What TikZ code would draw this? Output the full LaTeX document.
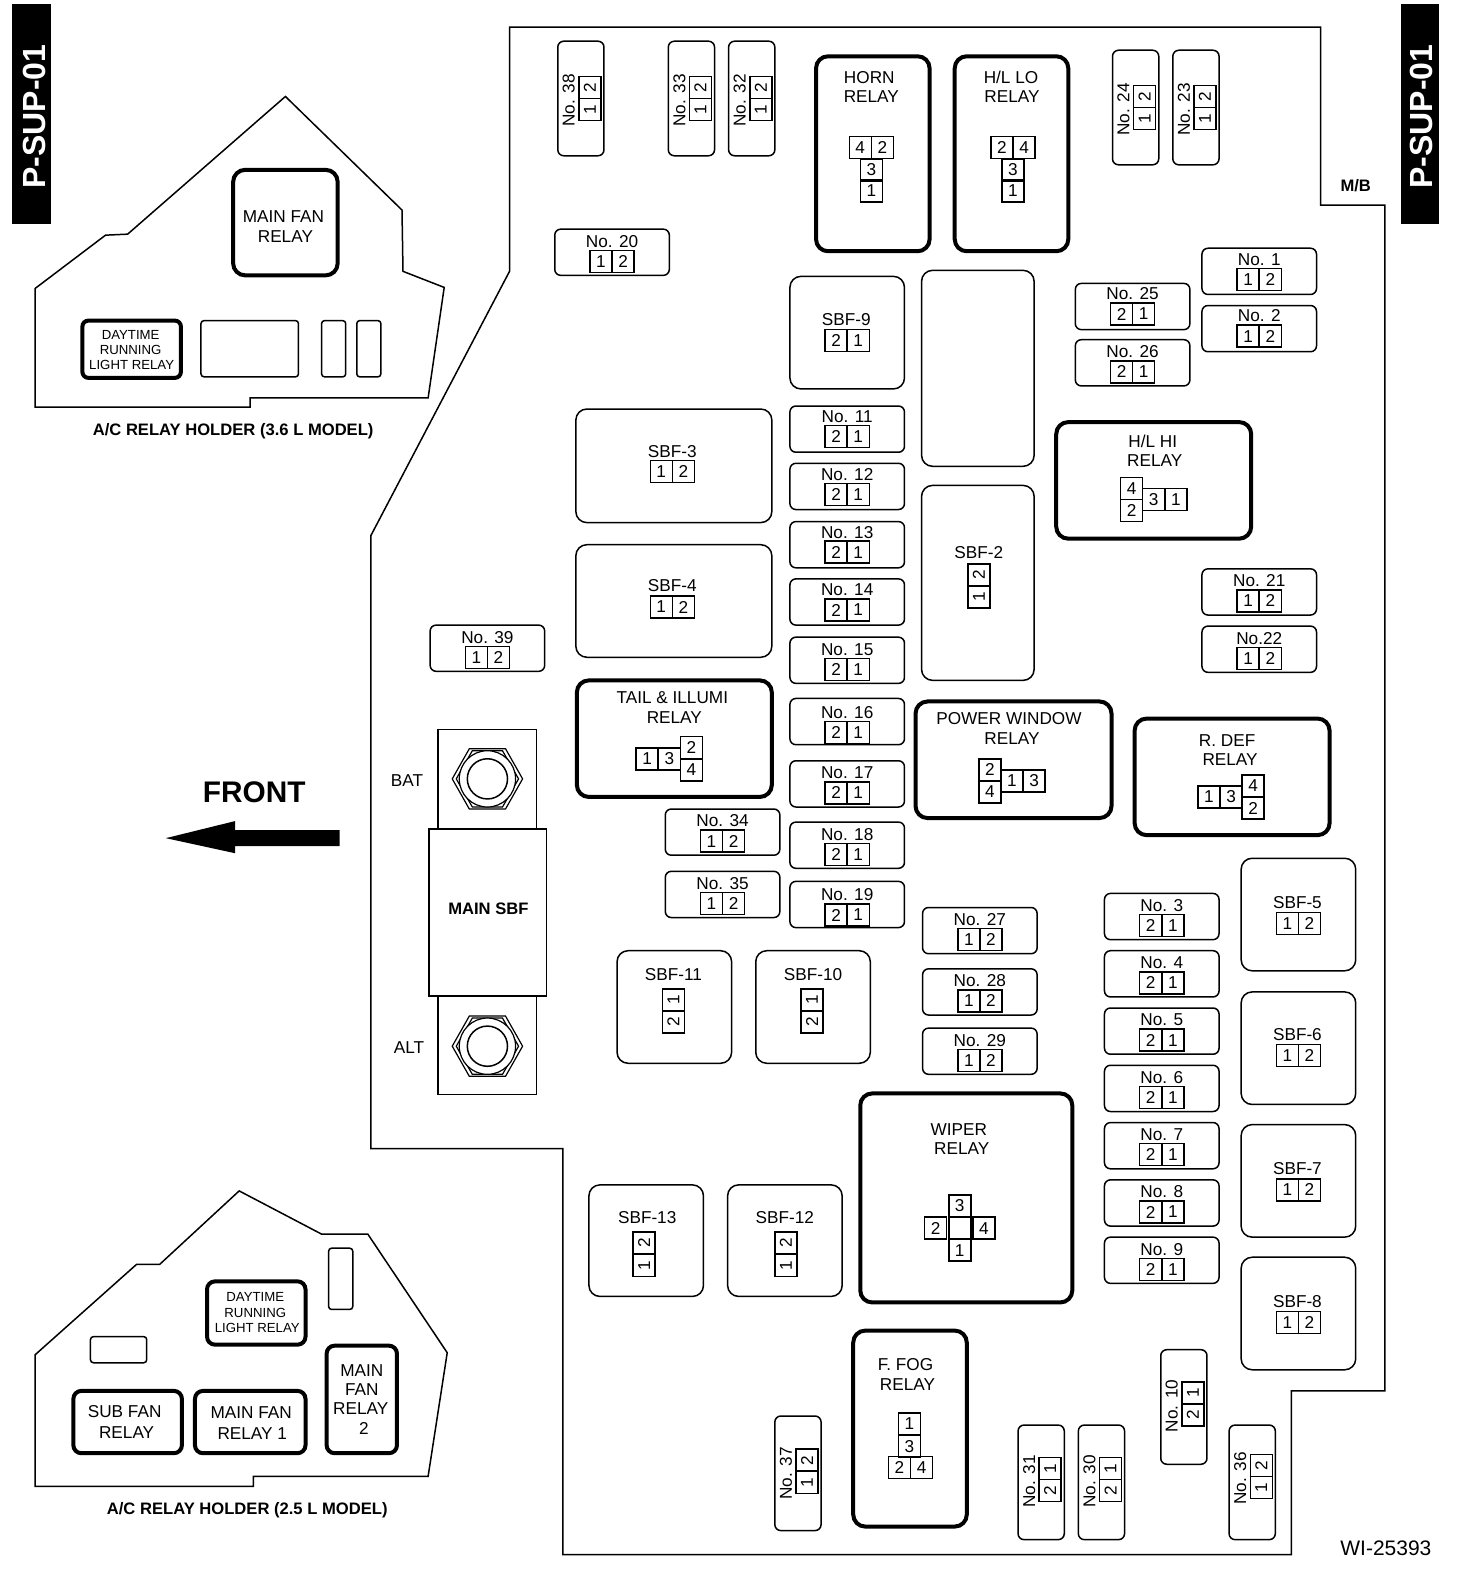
\documentclass[tikz,border=0pt]{standalone}
\usepackage{fontspec}
\setmainfont{Liberation Sans}
\usetikzlibrary{calc}

\tikzset{
  thinline/.style={line width=0.75pt},
  fusebox/.style={thinline, rounded corners=3pt},
  blankbox/.style={thinline, rounded corners=1.5pt},
  sbfbox/.style={thinline, rounded corners=5.5pt},
  relaybox/.style={line width=2pt, rounded corners=6pt},
  holderline/.style={line width=0.75pt, line join=miter},
  pinbox/.style={draw, thinline, inner sep=0pt, minimum width=11pt, minimum height=11pt},
  smalltext/.style={font=\fontsize{6.6}{8}\selectfont},
  boldtext/.style={font=\fontsize{8.3}{10}\selectfont\bfseries}
}

% one numbered square of a connector
\newcommand{\pin}[4]{\node[pinbox] (#1) at (#2,#3) {#4};}
\newcommand{\vpin}[4]{\node[pinbox, rotate=90] (#1) at (#2,#3) {#4};}

% flat fuse: name, left, top, label, pins, shift of its contents
\newcommand{\hfuse}[7]{
  \draw[fusebox] (#2,#3) rectangle ++(114,46);
  \node (#1) at ($(#2,#3)+(57,12+#7)$) {#4};
  \pin{#1a}{#2+46}{#3+32+#7}{#5}
  \pin{#1b}{#2+68}{#3+32+#7}{#6}
}

% upright fuse: name, left, top, label, pins, offset of the pins
\newcommand{\vfuse}[7]{
  \draw[fusebox] (#2,#3) rectangle ++(46,114);
  \node[rotate=90] (#1) at ($(#2,#3)+(11,#7+24)$) {#4};
  \vpin{#1a}{#2+32}{#3+#7+11}{#5}
  \vpin{#1b}{#2+32}{#3+#7+33}{#6}
}

% square fuse with flat pins
\newcommand{\sbf}[7]{
  \draw[sbfbox] (#2,#3) rectangle ++(114,112);
  \node (#1) at ($(#2,#3)+(56,44+#7)$) {#4};
  \pin{#1a}{#2+46}{#3+65+#7}{#5}
  \pin{#1b}{#2+68}{#3+65+#7}{#6}
}

% hexagon bolt of the main fuse
\newcommand{\bolt}[2]{
  \draw[line width=0.6pt] (#1-35,#2) -- (#1-18,#2-30) -- (#1+18,#2-30) -- (#1+35,#2)
    -- (#1+18,#2+30) -- (#1-18,#2+30) -- cycle;
  \draw[line width=0.6pt] (#1-31,#2) -- (#1-15,#2-28) -- (#1+15,#2-28) -- (#1+31,#2)
    -- (#1+15,#2+28) -- (#1-15,#2+28) -- cycle;
  \draw[line width=0.6pt, fill=white] (#1,#2) circle [radius=28];
  \draw[thinline] (#1,#2) circle [radius=20];
}

\begin{document}
\begin{tikzpicture}[x=0.5025pt, y=-0.5025pt, inner sep=0pt,
    font=\fontsize{8.6}{10}\selectfont]

\useasboundingbox (0,0) rectangle (1464.7,1568.2);

% Side tabs
\fill (12,4) rectangle (51,223);
\fill (1394,4) rectangle (1432,223);
\node[rotate=90, text=white, font=\fontsize{16}{18}\selectfont\bfseries] (tabL) at (34,116) {P-SUP-01};
\node[rotate=90, text=white, font=\fontsize{16}{18}\selectfont\bfseries] (tabR) at (1414,116) {P-SUP-01};

% Outline of the main box
\draw[holderline] (507,27) -- (1314,27) -- (1314,204) -- (1378,204) -- (1378,1384)
  -- (1285,1384) -- (1285,1547) -- (560,1547) -- (560,1143) -- (369,1143)
  -- (369,533) -- (507,270) -- cycle;
\node[boldtext] (mb) at (1349,185) {M/B};
\node[font=\fontsize{10.5}{12}\selectfont] (wi) at (1379,1541) {WI-25393};

% Holder, 3.6 L
\draw[holderline] (35,287) -- (105,234) -- (127,233) -- (284,96) -- (400,209) -- (401,270)
  -- (442,286) -- (426,396) -- (249,396) -- (249,405) -- (35,405) -- cycle;
\draw[relaybox] (232,169) rectangle (336,274);
\node (mainfanA) at (282,216) {MAIN FAN};
\node (mainfanB) at (284,235) {RELAY};
\draw[relaybox, rounded corners=3pt] (82,319) rectangle (180,376);
\node[smalltext] (dayA) at (130,333) {DAYTIME};
\node[smalltext] (dayB) at (130,348) {RUNNING};
\node[smalltext] (dayC) at (131,363) {LIGHT RELAY};
\draw[blankbox] (200,319) rectangle (297,375);
\draw[blankbox] (320,319) rectangle (344,375);
\draw[blankbox] (355,319) rectangle (379,375);
\node[boldtext] (holderA) at (232,429) {A/C RELAY HOLDER (3.6 L MODEL)};

% Holder, 2.5 L
\draw[holderline] (35,1348) -- (136,1258) -- (159,1258) -- (238,1185) -- (320,1228) -- (366,1228)
  -- (445,1346) -- (426,1469) -- (252,1469) -- (252,1479) -- (35,1479) -- cycle;
\draw[blankbox] (327,1242) rectangle (351,1303);
\draw[blankbox] (90,1330) rectangle (146,1356);
\draw[relaybox, rounded corners=4pt] (206,1275) rectangle (304,1338);
\node[smalltext] (day2A) at (254,1291) {DAYTIME};
\node[smalltext] (day2B) at (254,1306) {RUNNING};
\node[smalltext] (day2C) at (256,1321) {LIGHT RELAY};
\draw[relaybox, rounded corners=4pt] (73,1384) rectangle (181,1446);
\node (subA) at (124,1405) {SUB FAN};
\node (subB) at (126,1425) {RELAY};
\draw[relaybox, rounded corners=4pt] (194,1384) rectangle (304,1446);
\node (fan1A) at (250,1406) {MAIN FAN};
\node (fan1B) at (251,1426) {RELAY 1};
\draw[relaybox, rounded corners=4pt] (325,1339) rectangle (395,1446);
\node (fan2A) at (360,1364) {MAIN};
\node (fan2B) at (360,1383) {FAN};
\node (fan2C) at (359,1402) {RELAY};
\node (fan2D) at (362,1421) {2};
\node[boldtext] (holderB) at (246,1503) {A/C RELAY HOLDER (2.5 L MODEL)};

% Front arrow
\node[font=\fontsize{14.9}{17}\selectfont\bfseries] (front) at (253,788) {FRONT};
\fill (338,826) -- (234,826) -- (234,817) -- (165,834) -- (234,849) -- (234,842) -- (338,842) -- cycle;

% Main fuse with its two bolts
\draw[thinline] (436,726) rectangle (534,825);
\draw[thinline] (436,991) rectangle (534,1089);
\draw[thinline] (427,825) rectangle (544,991);
\bolt{485}{775}
\bolt{485}{1041}
\node[boldtext] (mainsbf) at (486,904) {MAIN SBF};
\node (bat) at (405,777) {BAT};
\node (alt) at (407,1042) {ALT};

% Upright fuses
\foreach \n/\x/\y/\dy in {38/555/41/35, 33/665/41/35, 32/725/41/35, 24/1107/50/35, 23/1167/50/35,
    37/771/1409/33, 36/1223/1418/29}{
  \vfuse{f\n}{\x}{\y}{No. \n}{2}{1}{\dy}
}
\foreach \n/\x/\y in {31/1013/1418, 30/1073/1418, 10/1155/1343}{
  \vfuse{f\n}{\x}{\y}{No. \n}{1}{2}{32}
}

% Flat fuses, pins 1 2
\foreach \n/\x/\y/\s in {20/552/228/0, 1/1196/247/-1, 2/1196/304/-1.5, 21/1196/566/0, 39/428/622/0,
    34/662/805/0, 35/662/867/0, 27/918/903/0, 28/918/964/0, 29/918/1023/0}{
  \hfuse{f\n}{\x}{\y}{No. \n}{1}{2}{\s}
}
\hfuse{f22}{1196}{623}{No.22}{1}{2}{0}

% Flat fuses, pins 2 1
\foreach \n/\y/\s in {11/404/-1.5, 12/461/-1, 13/519/-1.5, 14/576/-1, 15/634/0, 16/695/2, 17/757/0, 18/818/0.5, 19/877/1.5}{
  \hfuse{f\n}{786}{\y}{No. \n}{2}{1}{\s}
}
\foreach \n/\y/\s in {25/282/-1.5, 26/338/0}{
  \hfuse{f\n}{1070}{\y}{No. \n}{2}{1}{\s}
}
\foreach \n/\y in {3/889, 4/946, 5/1003, 6/1060, 7/1117, 8/1174, 9/1231}{
  \hfuse{f\n}{1099}{\y}{No. \n}{2}{1}{0}
}

% Square fuses
\sbf{s9}{786}{275}{SBF-9}{2}{1}{-1}
\foreach \n/\y/\s in {5/854/0, 6/987/-1.5, 7/1119/0, 8/1251/0}{
  \sbf{s\n}{1235}{\y}{SBF-\n}{1}{2}{\s}
}

% Wide fuses
\draw[sbfbox] (573,407) rectangle (768,520);
\node (s3) at (669,449) {SBF-3};
\pin{s3a}{658}{469}{1}
\pin{s3b}{680}{469}{2}
\draw[sbfbox] (573,542) rectangle (768,654);
\node (s4) at (669,583) {SBF-4};
\pin{s4a}{658}{604}{1}
\pin{s4b}{680}{604}{2}

% Tall fuse and the blank place above it
\draw[sbfbox] (917,269) rectangle (1029,464);
\draw[sbfbox] (917,483) rectangle (1029,677);
\node (s2) at (974,550) {SBF-2};
\vpin{s2a}{974}{572}{2}
\vpin{s2b}{974}{594}{1}

% Square fuses with upright pins
\draw[sbfbox] (614,946) rectangle (728,1058);
\node (s11) at (670,969.5) {SBF-11};
\vpin{s11a}{670}{995}{1}
\vpin{s11b}{670}{1017}{2}
\draw[sbfbox] (752,946) rectangle (866,1058);
\node (s10) at (809,969.5) {SBF-10};
\vpin{s10a}{808}{995}{1}
\vpin{s10b}{808}{1017}{2}
\draw[sbfbox] (586,1179) rectangle (700,1290);
\node (s13) at (644,1211.5) {SBF-13};
\vpin{s13a}{641}{1237}{2}
\vpin{s13b}{641}{1259}{1}
\draw[sbfbox] (724,1179) rectangle (838,1290);
\node (s12) at (781,1211.5) {SBF-12};
\vpin{s12a}{782}{1237}{2}
\vpin{s12b}{782}{1259}{1}

% Horn relay
\draw[relaybox] (812,56) rectangle (925,250);
\node (hornA) at (865,77) {HORN};
\node (hornB) at (867,96) {RELAY};
\pin{h4}{856}{147}{4}
\pin{h2}{878}{147}{2}
\pin{h3}{867}{169}{3}
\pin{h1}{867}{190}{1}

% H/L LO relay
\draw[relaybox] (950,56) rectangle (1063,250);
\node (loA) at (1006,77) {H/L LO};
\node (loB) at (1007,96) {RELAY};
\pin{l2}{997}{147}{2}
\pin{l4}{1019}{147}{4}
\pin{l3}{1008}{169}{3}
\pin{l1}{1008}{190}{1}

% H/L HI relay
\draw[relaybox] (1051,420) rectangle (1245,536);
\node (hiA) at (1147,439) {H/L HI};
\node (hiB) at (1149,458) {RELAY};
\pin{i4}{1126}{486}{4}
\pin{i2}{1126}{508}{2}
\pin{i3}{1148}{497}{3}
\pin{i1}{1170}{497}{1}

% Tail and illumination relay
\draw[relaybox] (574,677) rectangle (768,793);
\node (tailA) at (669,694.5) {TAIL \& ILLUMI};
\node (tailB) at (671,714.5) {RELAY};
\pin{t1}{644}{755}{1}
\pin{t3}{666}{755}{3}
\pin{t2}{688}{744}{2}
\pin{t4}{688}{766}{4}

% Power window relay
\draw[relaybox] (911,698) rectangle (1106,814);
\node (powA) at (1004,715.5) {POWER WINDOW};
\node (powB) at (1007,734.5) {RELAY};
\pin{p2}{985}{766}{2}
\pin{p4}{985}{788}{4}
\pin{p1}{1007}{777}{1}
\pin{p3}{1029}{777}{3}

% Rear defogger relay
\draw[relaybox] (1129,715) rectangle (1323,831);
\node (defA) at (1221,736.5) {R. DEF};
\node (defB) at (1224,755.5) {RELAY};
\pin{d1}{1203}{793}{1}
\pin{d3}{1225}{793}{3}
\pin{d4}{1247}{782}{4}
\pin{d2}{1247}{804}{2}

% Wiper relay
\draw[relaybox] (856,1088) rectangle (1067,1296);
\node (wipA) at (954,1123.5) {WIPER};
\node (wipB) at (957,1142.5) {RELAY};
\pin{w3}{955}{1200}{3}
\pin{w2}{931}{1222}{2}
\pin{w0}{955}{1222}{}
\pin{w4}{979}{1222}{4}
\pin{w1}{955}{1244}{1}

% Front fog relay
\draw[relaybox] (849,1324) rectangle (962,1519);
\node (fogA) at (901,1357.5) {F. FOG};
\node (fogB) at (903,1377.5) {RELAY};
\pin{g1}{905}{1417}{1}
\pin{g3}{905}{1439}{3}
\pin{g2}{895}{1460}{2}
\pin{g4}{917}{1460}{4}

\end{tikzpicture}
\end{document}
